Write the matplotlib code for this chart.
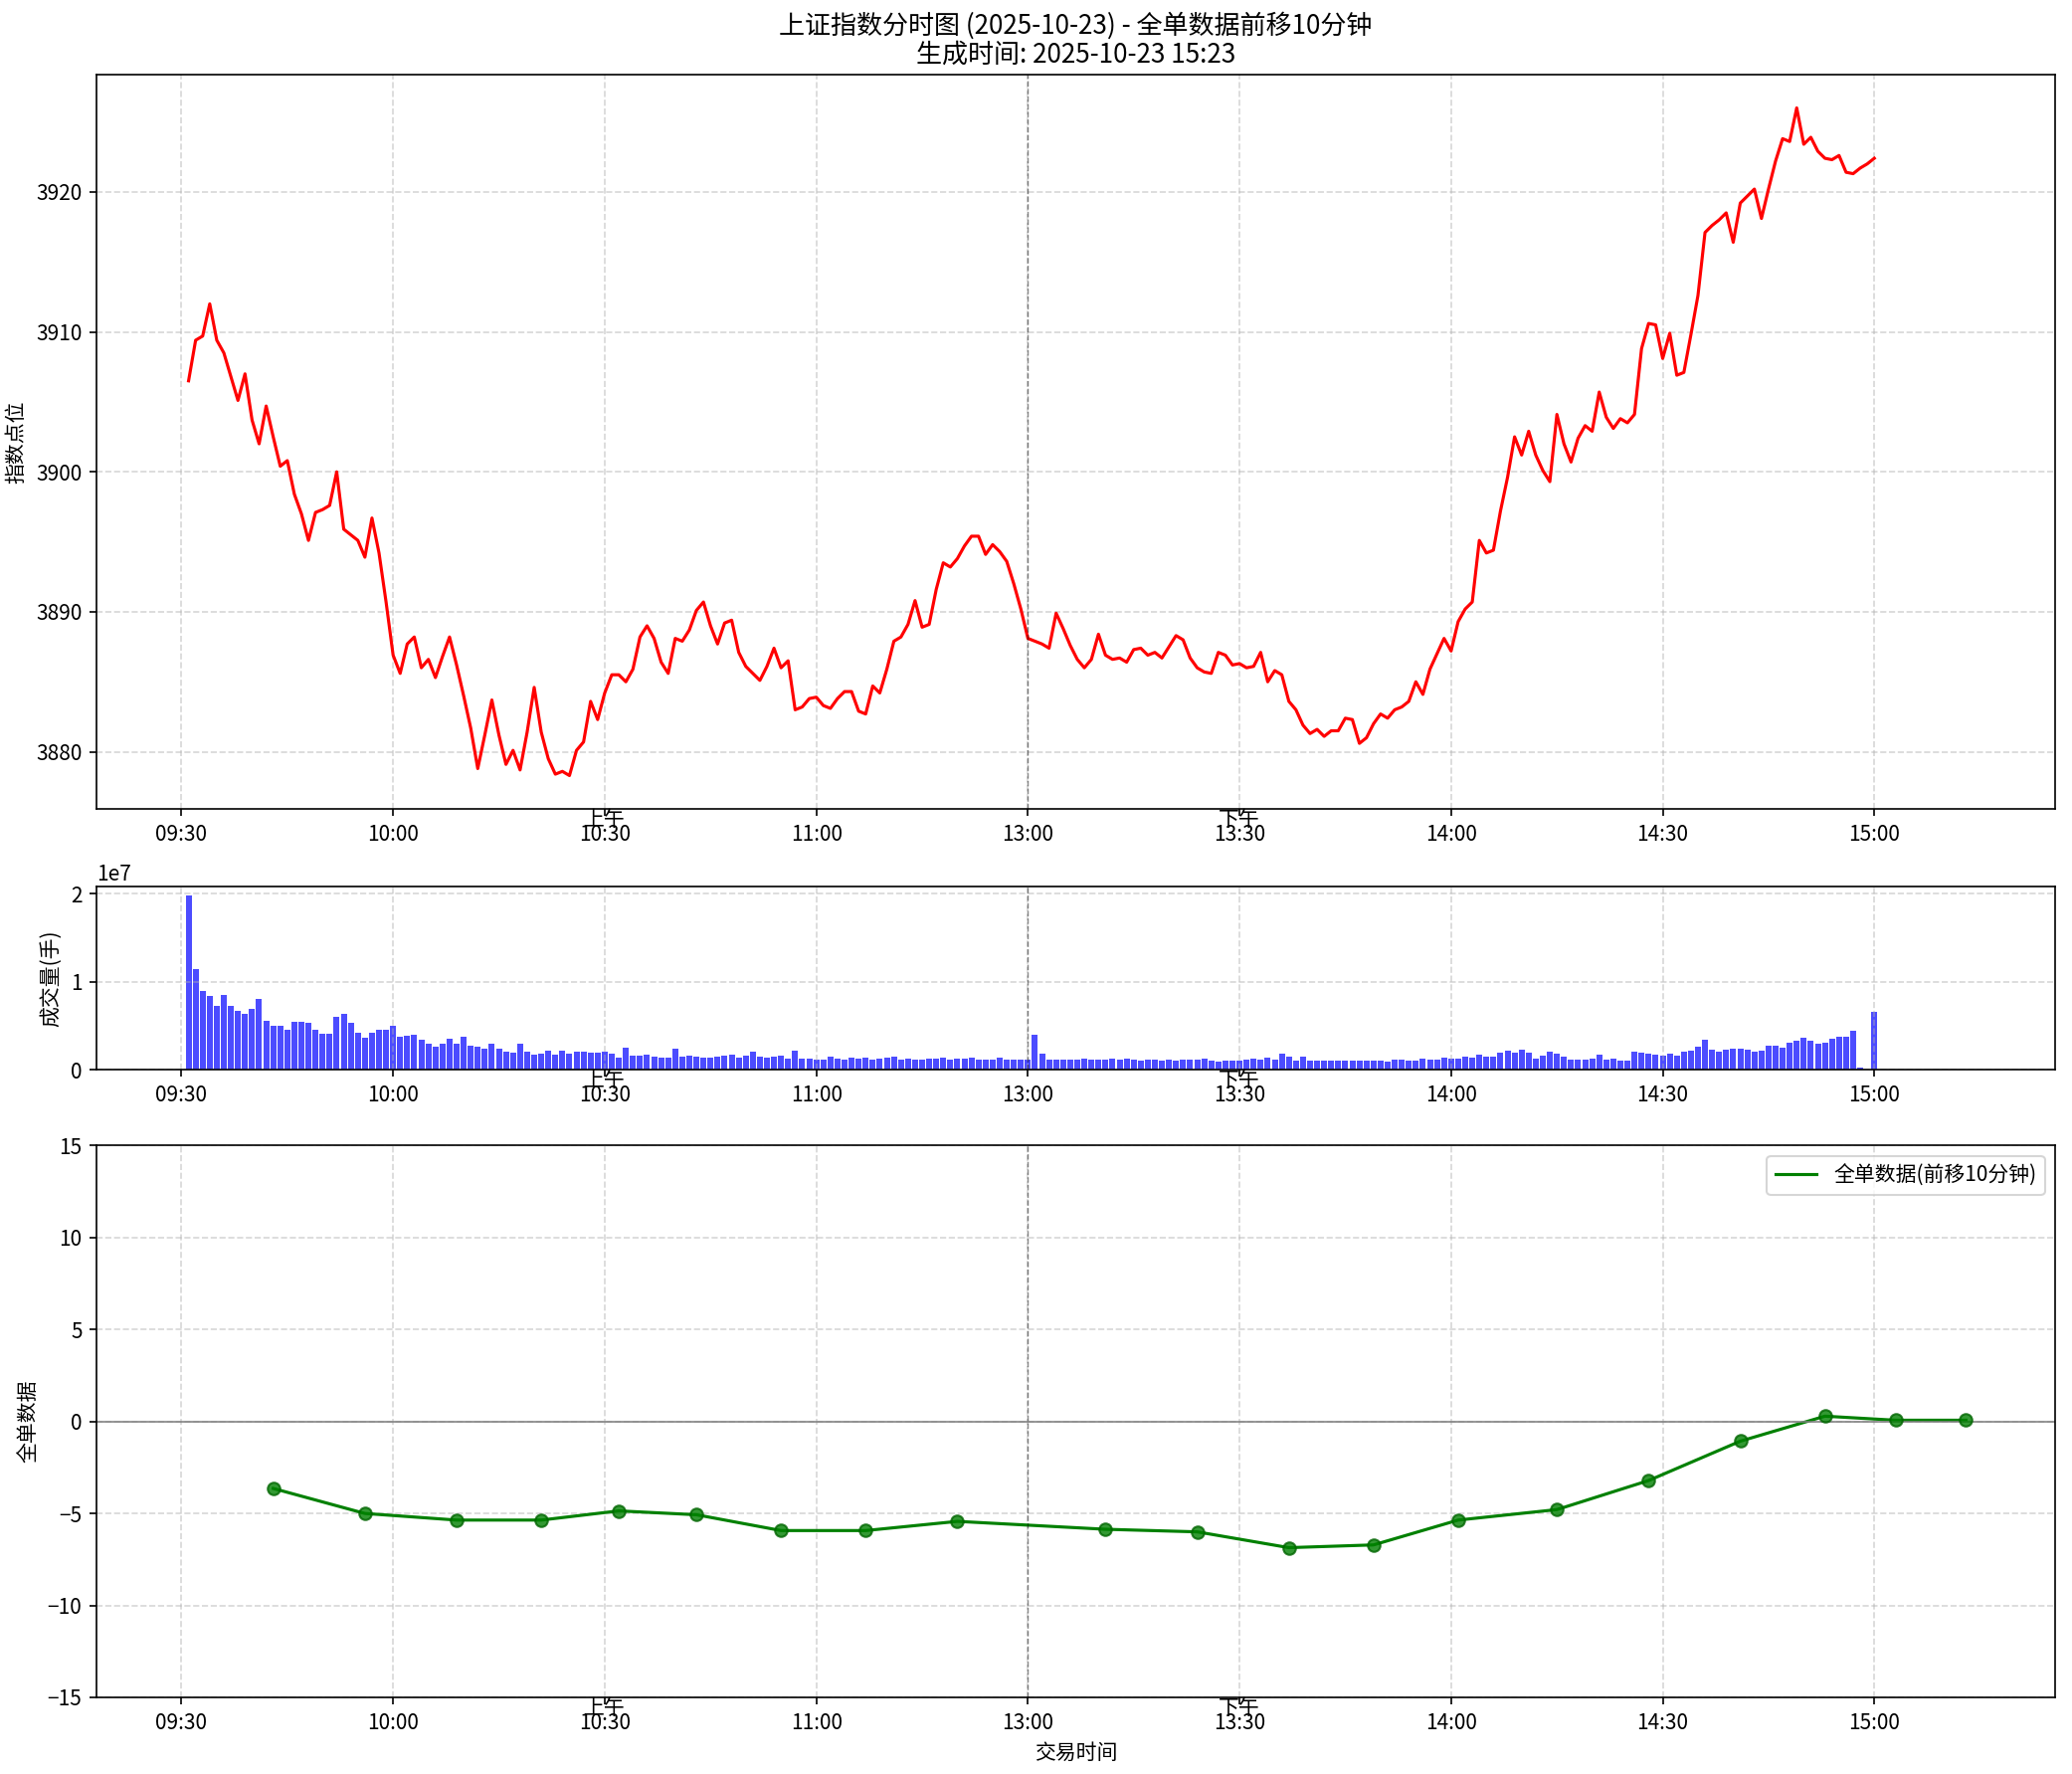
import numpy as np
import matplotlib
matplotlib.use("Agg")
import matplotlib.pyplot as plt
import matplotlib.transforms as mtransforms

plt.rcParams['font.family'] = ['Noto Sans CJK SC', 'DejaVu Sans']
plt.rcParams['axes.unicode_minus'] = True

# 分钟序号: 1..120 = 09:31..11:30, 121..240 = 13:01..15:00
minutes = np.arange(1, 241)

price = [
    3906.5, 3909.4, 3909.7, 3912.0, 3909.4, 3908.5, 3906.8, 3905.1, 3907.0, 3903.7,
    3902.0, 3904.7, 3902.5, 3900.4, 3900.8, 3898.4, 3897.0, 3895.1, 3897.1, 3897.3,
    3897.6, 3900.0, 3895.9, 3895.5, 3895.1, 3893.9, 3896.7, 3894.2, 3890.7, 3886.9,
    3885.6, 3887.7, 3888.2, 3886.0, 3886.6, 3885.3, 3886.8, 3888.2, 3886.2, 3884.0,
    3881.7, 3878.8, 3881.2, 3883.7, 3881.2, 3879.1, 3880.1, 3878.7, 3881.4, 3884.6,
    3881.4, 3879.5, 3878.4, 3878.6, 3878.3, 3880.1, 3880.7, 3883.6, 3882.3, 3884.2,
    3885.5, 3885.5, 3885.0, 3885.9, 3888.2, 3889.0, 3888.1, 3886.4, 3885.6, 3888.1,
    3887.9, 3888.7, 3890.1, 3890.7, 3889.0, 3887.7, 3889.2, 3889.4, 3887.1, 3886.1,
    3885.6, 3885.1, 3886.1, 3887.4, 3886.0, 3886.5, 3883.0, 3883.2, 3883.8, 3883.9,
    3883.3, 3883.1, 3883.8, 3884.3, 3884.3, 3882.9, 3882.7, 3884.7, 3884.2, 3885.9,
    3887.9, 3888.2, 3889.1, 3890.8, 3888.9, 3889.1, 3891.6, 3893.5, 3893.2, 3893.8,
    3894.7, 3895.4, 3895.4, 3894.1, 3894.8, 3894.3, 3893.6, 3892.0, 3890.2, 3888.1,
    3887.9, 3887.7, 3887.4, 3889.9, 3888.8, 3887.6, 3886.6, 3886.0, 3886.6, 3888.4,
    3886.9, 3886.6, 3886.7, 3886.4, 3887.3, 3887.4, 3886.9, 3887.1, 3886.7, 3887.5,
    3888.3, 3888.0, 3886.7, 3886.0, 3885.7, 3885.6, 3887.1, 3886.9, 3886.2, 3886.3,
    3886.0, 3886.1, 3887.1, 3885.0, 3885.8, 3885.5, 3883.6, 3883.0, 3881.9, 3881.3,
    3881.6, 3881.1, 3881.5, 3881.5, 3882.4, 3882.3, 3880.6, 3881.0, 3882.0, 3882.7,
    3882.4, 3883.0, 3883.2, 3883.6, 3885.0, 3884.1, 3885.9, 3887.0, 3888.1, 3887.2,
    3889.3, 3890.2, 3890.7, 3895.1, 3894.2, 3894.4, 3897.2, 3899.6, 3902.5, 3901.2,
    3902.9, 3901.2, 3900.1, 3899.3, 3904.1, 3902.0, 3900.7, 3902.4, 3903.3, 3902.9,
    3905.7, 3903.9, 3903.1, 3903.8, 3903.5, 3904.1, 3908.8, 3910.6, 3910.5, 3908.1,
    3909.9, 3906.9, 3907.1, 3909.8, 3912.6, 3917.1, 3917.6, 3918.0, 3918.5, 3916.4,
    3919.2, 3919.7, 3920.2, 3918.1, 3920.2, 3922.2, 3923.8, 3923.6, 3926.0, 3923.4,
    3923.9, 3922.9, 3922.4, 3922.3, 3922.6, 3921.4, 3921.3, 3921.7, 3922.0, 3922.4,
]

# 成交量 (百万手)
volume_m = [
    19.8, 11.4, 9.0, 8.4, 7.3, 8.5, 7.3, 6.7, 6.4, 6.9,
    8.1, 5.6, 5.0, 5.0, 4.5, 5.4, 5.4, 5.3, 4.5, 4.1,
    4.1, 6.0, 6.4, 5.3, 4.2, 3.6, 4.2, 4.6, 4.5, 5.0,
    3.8, 3.9, 4.0, 3.4, 3.0, 2.6, 3.0, 3.5, 3.0, 3.8,
    2.7, 2.6, 2.4, 3.0, 2.4, 2.1, 1.9, 3.0, 2.0, 1.7,
    1.8, 2.2, 1.7, 2.2, 1.8, 2.0, 2.1, 1.9, 1.9, 2.1,
    1.8, 1.4, 2.5, 1.6, 1.6, 1.7, 1.5, 1.4, 1.4, 2.4,
    1.5, 1.6, 1.5, 1.4, 1.4, 1.5, 1.6, 1.7, 1.4, 1.6,
    2.1, 1.5, 1.4, 1.5, 1.6, 1.3, 2.2, 1.3, 1.3, 1.2,
    1.2, 1.5, 1.3, 1.1, 1.4, 1.3, 1.4, 1.2, 1.3, 1.4,
    1.5, 1.2, 1.3, 1.2, 1.2, 1.3, 1.3, 1.4, 1.2, 1.3,
    1.3, 1.4, 1.2, 1.2, 1.1, 1.4, 1.2, 1.1, 1.1, 1.2,
    4.0, 1.8, 1.2, 1.2, 1.2, 1.1, 1.2, 1.3, 1.2, 1.2,
    1.1, 1.3, 1.2, 1.3, 1.2, 1.0, 1.1, 1.1, 1.0, 1.1,
    1.0, 1.1, 1.1, 1.2, 1.3, 1.0, 0.9, 1.0, 1.0, 1.0,
    1.2, 1.3, 1.2, 1.4, 1.1, 1.8, 1.5, 1.0, 1.5, 1.0,
    1.0, 1.0, 1.05, 1.0, 1.0, 1.0, 1.0, 1.0, 1.0, 1.0,
    0.9, 1.1, 1.2, 1.0, 1.0, 1.3, 1.2, 1.2, 1.4, 1.3,
    1.3, 1.5, 1.4, 1.7, 1.5, 1.5, 1.9, 2.2, 1.9, 2.3,
    1.9, 1.3, 1.6, 2.1, 1.8, 1.5, 1.1, 1.1, 1.1, 1.3,
    1.7, 1.2, 1.3, 1.0, 1.0, 2.1, 1.9, 1.8, 1.7, 1.6,
    1.8, 1.6, 2.0, 2.2, 2.6, 3.4, 2.3, 2.0, 2.3, 2.4,
    2.4, 2.3, 2.0, 2.2, 2.7, 2.7, 2.5, 3.1, 3.3, 3.6,
    3.3, 3.0, 3.1, 3.5, 3.7, 3.8, 4.4, 0.2, 0.0, 6.6,
]
volume = np.array(volume_m) * 1e6

# 全单数据 (前移10分钟)
flow_minutes = [13, 26, 39, 51, 62, 73, 85, 97, 110, 131,
                144, 157, 169, 181, 195, 208, 221, 233, 243, 253]
flow_values = [-3.64, -5.0, -5.36, -5.36, -4.86, -5.07, -5.93, -5.93, -5.43, -5.86,
               -6.0, -6.86, -6.71, -5.36, -4.79, -3.21, -1.07, 0.29, 0.07, 0.07]

tick_pos = [0, 30, 60, 90, 120, 150, 180, 210, 240]
tick_labels = ['09:30', '10:00', '10:30', '11:00', '13:00', '13:30', '14:00', '14:30', '15:00']

fig = plt.figure(figsize=(2083 / 150, 1783 / 150), dpi=150)
ax1 = fig.add_axes([0.0466, 0.544, 0.9452, 0.414])
ax2 = fig.add_axes([0.0466, 0.397, 0.9452, 0.103], sharex=ax1)
ax3 = fig.add_axes([0.0466, 0.0432, 0.9452, 0.311], sharex=ax1)

# 分时价格
ax1.plot(minutes, price, color='red', linewidth=1.5)
ax1.set_ylabel('指数点位', fontsize=10)
ax1.set_title('上证指数分时图 (2025-10-23) - 全单数据前移10分钟\n生成时间: 2025-10-23 15:23',
              fontsize=12.5, linespacing=1.1)

# 成交量
ax2.bar(minutes, volume, width=0.85, color='blue', alpha=0.7)
ax2.set_ylabel('成交量(手)', fontsize=10)

# 全单数据: 线 + 散点
ax3.plot(flow_minutes, flow_values, color='green', linewidth=1.5,
         label='全单数据(前移10分钟)')
ax3.scatter(flow_minutes, flow_values, color='green', s=36, alpha=0.8,
            edgecolors='darkgreen', zorder=3)
ax3.axhline(0, color='gray', linewidth=1, alpha=0.8)
ax3.set_ylim(-15, 15)
ax3.set_yticks([-15, -10, -5, 0, 5, 10, 15])
ax3.set_ylabel('全单数据', fontsize=10)
ax3.set_xlabel('交易时间', fontsize=10)
ax3.legend(loc='upper right', fontsize=10)

for ax in (ax1, ax2, ax3):
    ax.grid(True, linestyle='--', alpha=0.5)
    ax.axvline(120, color='black', linestyle='--', linewidth=0.7, alpha=0.45)
    ax.set_xticks(tick_pos)
    ax.set_xticklabels(tick_labels)
    ax.tick_params(labelbottom=True, labelsize=10)
    trans = mtransforms.blended_transform_factory(ax.transData, ax.transAxes)
    ax.text(60, 0, '上午', transform=trans, ha='center', va='top', fontsize=10)
    ax.text(150, 0, '下午', transform=trans, ha='center', va='top', fontsize=10)

fig.savefig('out.png', dpi=150)
